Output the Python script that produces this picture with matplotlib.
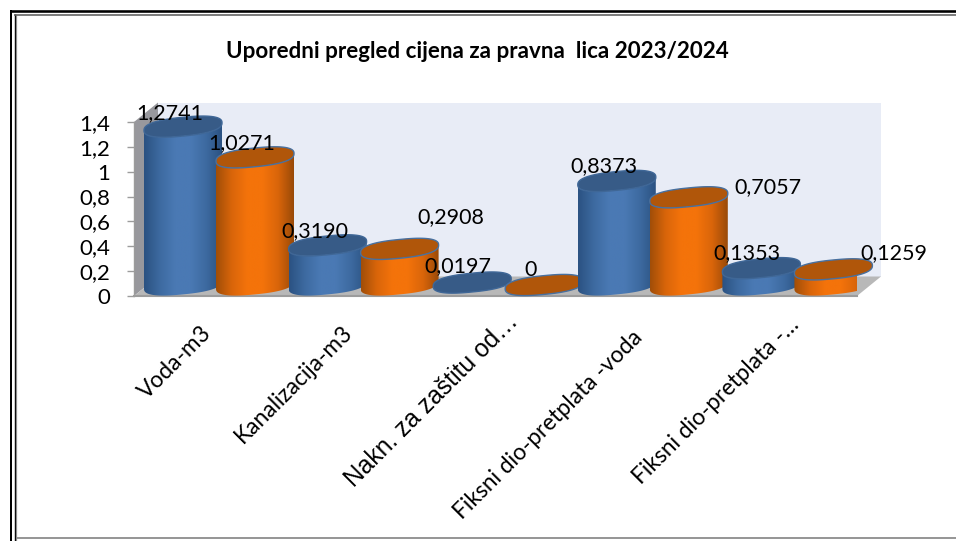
import numpy as np
import matplotlib
matplotlib.use("Agg")
import matplotlib.pyplot as plt
from matplotlib.colors import LinearSegmentedColormap
from matplotlib.lines import Line2D
from matplotlib.patches import Polygon

# data
categories = ["Voda-m3", "Kanalizacija-m3", "Nakn. za zaštitu od…",
              "Fiksni dio-pretplata -voda", "Fiksni dio-pretplata -…"]
values_2023 = [1.2741, 0.3190, 0.0197, 0.8373, 0.1353]
values_2024 = [1.0271, 0.2908, 0.0, 0.7057, 0.1259]
labels_2023 = ["1,2741", "0,3190", "0,0197", "0,8373", "0,1353"]
labels_2024 = ["1,0271", "0,2908", "0", "0,7057", "0,1259"]
y_ticks = [0, 0.2, 0.4, 0.6, 0.8, 1.0, 1.2, 1.4]
y_tick_labels = ["0", "0,2", "0,4", "0,6", "0,8", "1", "1,2", "1,4"]

# label offsets from the top of each cylinder, in pixels
offsets_2023 = [(-13, 14), (-13, 14), (-14, 16), (-13, 15), (-14, 15)]
offsets_2024 = [(-13, 14), (51, 32), (-14, 15), (79, 10), (60, 16)]
# category label anchors relative to the tick position, in pixels
cat_offsets = [(-6, -26), (-9, -26), (10, -13), (-8, -31), (4, -18)]

W, H = 956, 541
PX_X = 5 / 723   # category units per pixel
PX_Y = 1.4 / 174  # value units per pixel

blue_cmap = LinearSegmentedColormap.from_list(
    "blue", ["#2b5282", "#3d6aa0", "#4a79b4", "#4a79b4", "#3d6aa0", "#2b5282"])
orange_cmap = LinearSegmentedColormap.from_list(
    "orange", ["#a14e08", "#d9650a", "#f4730a", "#f4730a", "#d9650a", "#9a4a08"])

plt.rcParams["font.family"] = ["Lato", "DejaVu Sans"]
fig = plt.figure(figsize=(W / 100, H / 100), dpi=100)
ax = fig.add_axes([134 / W, (H - 296) / H, 723 / W, 174 / H])
ax.set_xlim(-0.5, 4.5)
ax.set_ylim(0, 1.4)
for s in ax.spines.values():
    s.set_visible(False)

# 3d box: back wall, side wall, floor
dx, dy = 24 * PX_X, 19.5 * PX_Y
ax.add_patch(Polygon([(-0.5 + dx, dy), (4.5 + dx, dy), (4.5 + dx, 1.4 + dy), (-0.5 + dx, 1.4 + dy)],
                     fc="#e8ecf6", ec="none", clip_on=False, zorder=1))
ax.add_patch(Polygon([(-0.5, 0), (-0.5 + dx, dy), (-0.5 + dx, 1.4 + dy), (-0.5, 1.4)],
                     fc="#98989d", ec="none", clip_on=False, zorder=1))
ax.add_patch(Polygon([(-0.5, 0), (4.5, 0), (4.5 + dx, dy), (-0.5 + dx, dy)],
                     fc="#b8b8b8", ec="none", clip_on=False, zorder=1))
ax.plot([-0.5, 4.5], [0, 0], color="#9c9c9c", lw=1.5, clip_on=False, zorder=2)
ax.plot([-0.5, -0.5], [0, 1.4], color="#9c9c9c", lw=1, clip_on=False, zorder=2)

a = 39 * PX_X
b = 9.4 * PX_Y
tilt = 3.8 * PX_Y
t = np.linspace(0, 2 * np.pi, 121)
shift_x = 12.7 * PX_X
base_y = 11 * PX_Y
# blunter ends than a true ellipse, like the source rendering
cos_t = np.sign(np.cos(t)) * np.abs(np.cos(t)) ** 0.8
sin_t = np.sign(np.sin(t)) * np.abs(np.sin(t)) ** 0.8


def ellipse(cx, cy):
    return cx + a * cos_t, cy + b * sin_t + tilt * cos_t


def cylinder(cx, value, cmap, top_color, edge_color, z):
    y0 = base_y
    y1 = base_y + value
    ex, ey = ellipse(cx, y0)
    lower = t >= np.pi
    bx, by = ex[lower], ey[lower]
    ex1, ey1 = ellipse(cx, y1)
    body = np.vstack([np.column_stack([bx, by]),
                      np.column_stack([bx[::-1], by[::-1] + value])])
    patch = Polygon(body, fc="none", ec="none", clip_on=False, zorder=z)
    ax.add_patch(patch)
    if value > 0.03:
        im = ax.imshow(np.linspace(0, 1, 128).reshape(1, -1), cmap=cmap, aspect="auto",
                       extent=[cx - a, cx + a, y0 - b - tilt, y1 + b + tilt],
                       zorder=z, clip_on=True)
        im.set_clip_path(patch)
    ax.fill(ex1, ey1, fc=top_color, ec=edge_color, lw=1.0, clip_on=False, zorder=z + 0.1)


for i in range(len(categories)):
    c = i + shift_x
    cylinder(c - 36 * PX_X, values_2023[i], blue_cmap, "#375b87", "#3f6797", 3 + i * 2)
    cylinder(c + 36 * PX_X, values_2024[i], orange_cmap, "#b0560a", "#48709f", 4 + i * 2)

    for val, lab, off, sign in [(values_2023[i], labels_2023[i], offsets_2023[i], -1),
                                (values_2024[i], labels_2024[i], offsets_2024[i], 1)]:
        ax.annotate(lab, xy=(c + sign * 36 * PX_X, base_y + val),
                    xytext=(off[0] * 0.72, off[1] * 0.72), textcoords="offset points",
                    ha="center", va="center", fontsize=15.5, color="black",
                    annotation_clip=False, zorder=30)

ax.set_xlim(-0.5, 4.5)
ax.set_ylim(0, 1.4)

ax.set_yticks(y_ticks)
ax.set_yticklabels(y_tick_labels, fontsize=16)
ax.tick_params(axis="y", length=5, color="#9c9c9c", width=1, pad=12)
ax.set_xticks(range(len(categories)))
ax.set_xticklabels([])
ax.tick_params(axis="x", length=0)

for i, name in enumerate(categories):
    txt = ax.annotate(name, xy=(i, 0), xytext=(cat_offsets[i][0] * 0.72, cat_offsets[i][1] * 0.72),
                      textcoords="offset points", rotation=45, ha="right", va="top",
                      rotation_mode="anchor", fontsize=16.4, annotation_clip=False)
    if i == 2:
        txt.set_family("Liberation Sans")
        txt.set_fontsize(17.7)

fig.text(477.5 / W, (H - 51) / H, "Uporedni pregled cijena za pravna  lica 2023/2024",
         ha="center", va="center", fontsize=16.1, fontweight="bold")

# double frame of the source document
def frame_line(x0, y0, x1, y1, color, px):
    fig.add_artist(Line2D([x0 / W, x1 / W], [(H - y0) / H, (H - y1) / H], color=color,
                          lw=px * 0.72, solid_capstyle="butt"))


frame_line(11, 10, 11, H, "black", 2)
frame_line(14.7, 14, 14.7, H, "black", 1.4)
frame_line(16, 15, 16, H, "#8c8c8c", 1.2)
frame_line(10, 11.3, W, 11.3, "black", 2.6)
frame_line(14, 14.5, W, 14.5, "#5f5f5f", 1.6)
frame_line(16, 537.8, W, 537.8, "#8c8c8c", 1.8)

fig.savefig("out.png", dpi=100)
